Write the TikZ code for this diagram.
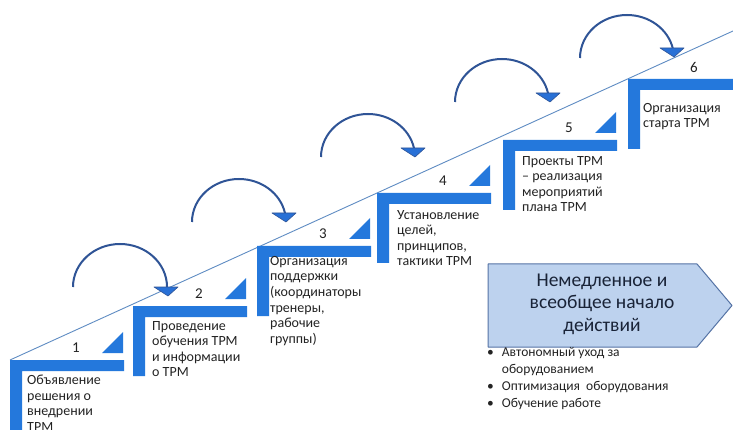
\documentclass[tikz,border=0pt]{standalone}
\usepackage{fontspec}
\setmainfont{Carlito}
\definecolor{barblue}{RGB}{36,120,220}
\definecolor{arcblue}{RGB}{47,84,150}
\definecolor{headblue}{RGB}{40,112,214}
\definecolor{lineblue}{RGB}{95,140,195}
\definecolor{boxfill}{RGB}{189,210,238}
\definecolor{boxdraw}{RGB}{85,115,165}
\definecolor{txt}{RGB}{35,35,35}
\definecolor{bigtxt}{RGB}{25,35,55}
\begin{document}
\begin{tikzpicture}[x=1pt,y=-1pt,
  steptext/.style={anchor=north west, inner sep=0pt, align=left, font=\fontsize{14}{15.6}\selectfont, text=txt},
  num/.style={font=\fontsize{15}{17}\selectfont, text=txt, inner sep=0pt},
  bar/.style={fill=barblue, draw=none},
  jump/.style={draw=arcblue, line width=2pt},
  head/.style={fill=headblue, draw=arcblue, line width=0.6pt, line join=round},
  diag/.style={draw=lineblue, line width=0.9pt}]
\useasboundingbox (0,0) rectangle (733,430);
\clip (0,0) rectangle (733,430);
\fill[white] (0,0) rectangle (733,430);

% diagonal line
\coordinate (dstart) at (10,360);
\coordinate (dend) at (733,31);
\draw[diag] (dstart) -- (dend);

% steps
\foreach \X/\Y/\n/\tri in {10/360/1/1, 133/306/2/1, 257/246/3/1, 377/193/4/1, 503/140/5/1, 628/79/6/0}{
  \begin{scope}[shift={(\X,\Y)}]
    \fill[bar] (0,0) -- (114,0) -- (114,11) -- (12,11) -- (12,70) -- (0,70) -- cycle;
    \ifnum\tri=1
      \fill[bar] (113,-7) -- (113,-28) -- (92,-7) -- cycle;
    \fi
    \node[num] (n\n) at (66,-12) {\n};
  \end{scope}
}

% step texts
\node[steptext] (s1) at (27,375) {Объявление\\решения о\\внедрении\\ТРМ};
\node[steptext] (s2) at (152,321) {Проведение\\обучения ТРМ\\и информации\\о ТРМ};
\node[steptext] (s3) at (270,256) {Организация\\поддержки\\(координаторы\\тренеры,\\рабочие\\группы)};
\node[steptext] (s4) at (397,210) {Установление\\целей,\\принципов,\\тактики ТРМ};
\node[steptext] (s5) at (522,156) {Проекты ТРМ\\– реализация\\мероприятий\\плана ТРМ};
\node[steptext] (s6) at (643,103) {Организация\\старта ТРМ};

% jump arrows
\foreach \sx/\sy/\ea/\ax/\ay in {73/287/360/166/287, 192/222/348/284/213, 321/157/348/413/148, 455/102/348/548/93, 580/58/348/672/48}{
  \coordinate (as) at (\sx,\sy);
  \draw[jump] (as) arc[start angle=180, end angle=\ea, x radius=47, y radius=43];
  \coordinate (ah) at (\ax,\ay);
  \filldraw[head] ([xshift=-12pt]ah) -- ([xshift=12pt]ah) -- ([xshift=2pt,yshift=-9pt]ah) -- cycle;
}

% big arrow
\filldraw[fill=boxfill, draw=boxdraw, line width=1pt, line join=round]
  (488,264) -- (697,264) -- (732,305.5) -- (697,347) -- (488,347) -- cycle;
\node[align=center, font=\fontsize{19.5}{22.5}\selectfont, text=bigtxt] (act) at (602,304)
  {Немедленное и\\всеобщее начало\\действий};

% bullets
\node[anchor=north west, inner sep=0pt, text=txt, font=\fontsize{13.5}{17}\selectfont] (bul) at (487,344)
  {\begin{tabular}{@{}l@{\hspace{8pt}}l@{}}
   • & Автономный уход за\\
     & оборудованием\\
   • & Оптимизация\ \ оборудования\\
   • & Обучение работе
   \end{tabular}};
\end{tikzpicture}
\end{document}
